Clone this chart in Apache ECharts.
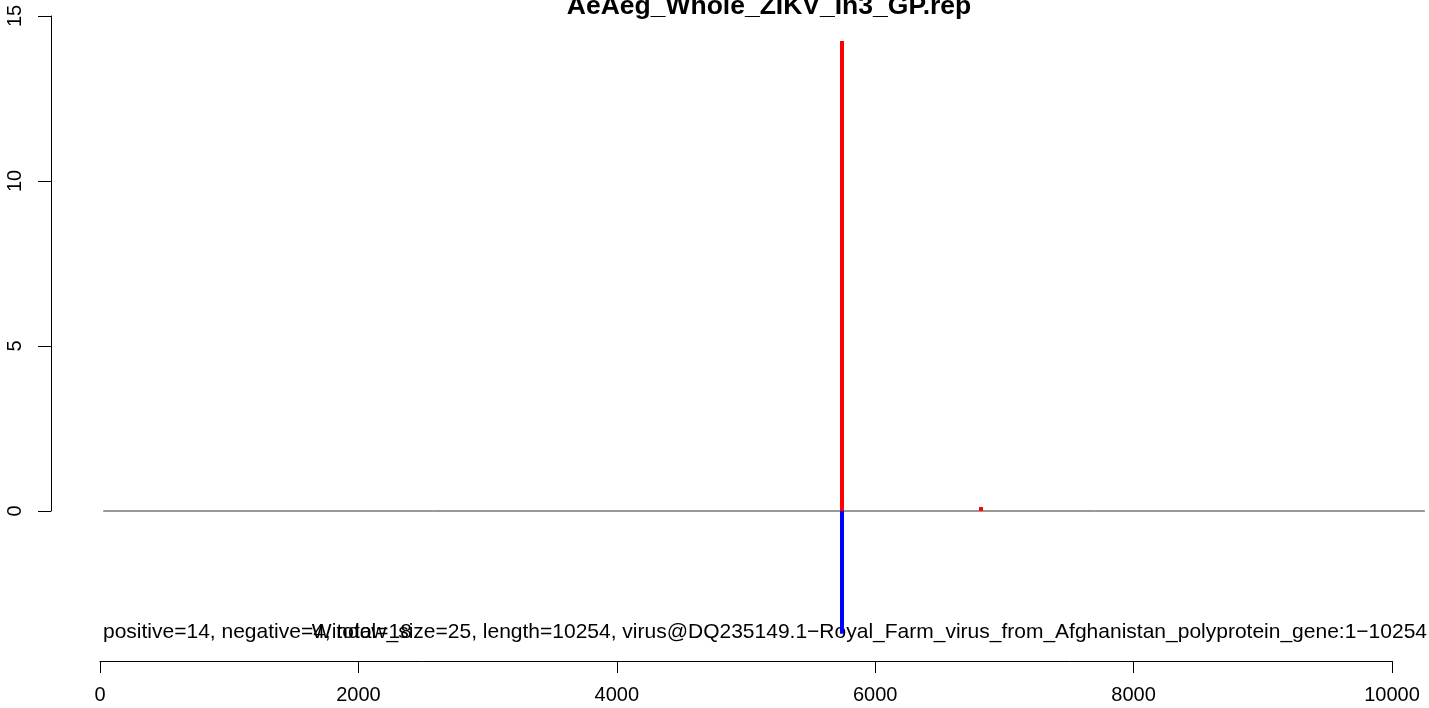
<!DOCTYPE html>
<html>
<head>
<meta charset="utf-8">
<script src="https://cdn.jsdelivr.net/npm/echarts@6/dist/echarts.min.js"></script>
<style>
html,body{margin:0;padding:0;background:#fff;}
#chart{width:1429px;height:708px;}
</style>
</head>
<body>
<div id="chart"></div>
<script>
// ---- data ----
const chartTitle = "AeAeg_Whole_ZIKV_In3_GP.rep";
const countsText = "positive=14, negative=4, total=18";
const infoText = "Window_size=25, length=10254, virus@DQ235149.1\u2212Royal_Farm_virus_from_Afghanistan_polyprotein_gene:1\u221210254";
const positivePositions = [5743, 6819];
const positiveValues = [14.24, 0.12];
const negativePositions = [5743];
const negativeValues = [-3.72];
const baselineX = [25, 10254];
const xTicks = [0, 2000, 4000, 6000, 8000, 10000];
const yTicks = [0, 5, 10, 15];

const posData = positivePositions.map((x, i) => [x, positiveValues[i]]);
const negData = negativePositions.map((x, i) => [x, negativeValues[i]]);
const baseData = baselineX.map(x => [x, 0]);

const font = "'Liberation Sans', Arial, Helvetica, sans-serif";
// pixel scale: 10000 units span 1292 px; plotting grid extends to the right edge
const pxPerUnit = 1292 / 10000;
const plotMaxX = 1329 / pxPerUnit;

const chart = echarts.init(document.getElementById('chart'), null, {renderer: 'canvas'});
chart.setOption({
  animation: false,
  backgroundColor: '#ffffff',
  grid: [
    {left: 100, right: 0, top: 16, bottom: 65},
    {left: 100, right: 37, top: 16, height: 495}
  ],
  xAxis: [
    {gridIndex: 0, type: 'value', min: 0, max: plotMaxX, show: false, splitLine: {show: false}},
    {
      gridIndex: 1, type: 'value', min: xTicks[0], max: xTicks[xTicks.length - 1], interval: 2000,
      position: 'bottom', offset: 150,
      axisLine: {show: true, onZero: false, lineStyle: {color: '#000', width: 1}},
      axisTick: {show: true, length: 12, lineStyle: {color: '#000', width: 1}},
      axisLabel: {show: true, margin: 24, fontSize: 20, color: '#000', fontFamily: font, showMinLabel: true, showMaxLabel: true,
        formatter: v => String(v)},
      splitLine: {show: false}
    }
  ],
  yAxis: [
    {gridIndex: 0, type: 'value', min: -4, max: 15, show: false, splitLine: {show: false}},
    {
      gridIndex: 1, type: 'value', min: yTicks[0], max: yTicks[yTicks.length - 1], interval: 5,
      position: 'left', offset: 49,
      axisLine: {show: true, onZero: false, lineStyle: {color: '#000', width: 1}},
      axisTick: {show: true, length: 13, lineStyle: {color: '#000', width: 1}},
      axisLabel: {show: true, rotate: 90, margin: 26, fontSize: 20, color: '#000', fontFamily: font, showMinLabel: true, showMaxLabel: true,
        formatter: v => String(v)},
      splitLine: {show: false}
    }
  ],
  series: [
    {
      type: 'line', xAxisIndex: 0, yAxisIndex: 0, data: baseData, symbol: 'none', clip: false,
      lineStyle: {color: '#333333', width: 1}, silent: true, z: 1
    },
    {
      type: 'bar', xAxisIndex: 0, yAxisIndex: 0, data: posData, barWidth: 4, barGap: '-100%',
      itemStyle: {color: '#ff0000'}, z: 2
    },
    {
      type: 'bar', xAxisIndex: 0, yAxisIndex: 0, data: negData, barWidth: 4, barGap: '-100%',
      itemStyle: {color: '#0000ff'}, z: 2
    }
  ],
  graphic: [
    {
      type: 'text', position: [769, 7],
      style: {text: chartTitle, x: 0, y: 0, fill: '#000', font: "bold 26.5px " + font, textAlign: 'center', textVerticalAlign: 'middle'}
    },
    {
      type: 'text', position: [103, 632],
      style: {text: countsText, x: 0, y: 0, fill: '#000', font: "21px " + font, textAlign: 'left', textVerticalAlign: 'middle'}
    },
    {
      type: 'text', position: [1427, 632],
      style: {text: infoText, x: 0, y: 0, fill: '#000', font: "21px " + font, textAlign: 'right', textVerticalAlign: 'middle'}
    }
  ]
});
</script>
</body>
</html>
